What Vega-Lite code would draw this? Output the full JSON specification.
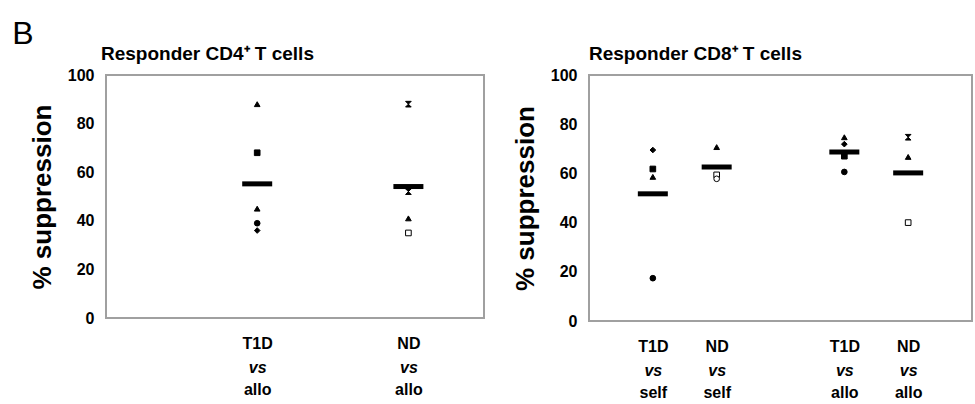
{
  "$schema": "https://vega.github.io/schema/vega-lite/v6.json",
  "background": "white",
  "padding": {"left": 12, "top": 18, "right": 5, "bottom": 2},
  "title": {"text": "B", "anchor": "start", "frame": "bounds", "fontSize": 32, "fontWeight": "normal", "dx": -16, "offset": -7, "color": "black"},
  "datasets": {
    "cd4pts": [
      {"group": "T1D allo", "donor": "D1", "suppression": 88},
      {"group": "T1D allo", "donor": "D2", "suppression": 68},
      {"group": "T1D allo", "donor": "D7", "suppression": 45},
      {"group": "T1D allo", "donor": "D4", "suppression": 39},
      {"group": "T1D allo", "donor": "D3", "suppression": 36},
      {"group": "ND allo", "donor": "D6", "suppression": 88},
      {"group": "ND allo", "donor": "D8", "suppression": 52},
      {"group": "ND allo", "donor": "D1", "suppression": 41},
      {"group": "ND allo", "donor": "D5", "suppression": 35}
    ],
    "cd4means": [
      {"group": "T1D allo", "suppression": 55.2},
      {"group": "ND allo", "suppression": 54.1}
    ],
    "cd8pts": [
      {"group": "T1D self", "donor": "D3", "suppression": 69.5},
      {"group": "T1D self", "donor": "D2", "suppression": 61.8},
      {"group": "T1D self", "donor": "D1", "suppression": 58.6},
      {"group": "T1D self", "donor": "D4", "suppression": 17.4},
      {"group": "ND self", "donor": "D1", "suppression": 70.7},
      {"group": "ND self", "donor": "D5", "suppression": 59.4},
      {"group": "ND self", "donor": "D9", "suppression": 57.8},
      {"group": "T1D allo", "donor": "D1", "suppression": 74.7},
      {"group": "T1D allo", "donor": "D3", "suppression": 71.9},
      {"group": "T1D allo", "donor": "D2", "suppression": 67},
      {"group": "T1D allo", "donor": "D4", "suppression": 60.6},
      {"group": "ND allo", "donor": "D6", "suppression": 74.7},
      {"group": "ND allo", "donor": "D7", "suppression": 66.7},
      {"group": "ND allo", "donor": "D5", "suppression": 40}
    ],
    "cd8means": [
      {"group": "T1D self", "suppression": 51.7},
      {"group": "ND self", "suppression": 62.6},
      {"group": "T1D allo", "suppression": 68.7},
      {"group": "ND allo", "suppression": 60.2}
    ]
  },
  "spacing": 26,
  "hconcat": [
    {
      "width": 378,
      "height": 243,
      "title": {"text": "Responder CD4⁺ T cells", "offset": 3, "dx": -5},
      "resolve": {"scale": {"x": "independent"}},
      "layer": [
        {
          "data": {"name": "cd4pts"},
          "mark": {"type": "point", "size": 32, "stroke": "black", "strokeWidth": 1, "opacity": 1},
          "encoding": {
            "x": {"field": "group", "type": "nominal", "scale": {"type": "point", "domain": ["gapA", "T1D allo", "gapB", "ND allo"], "padding": 1},
                  "axis": {"title": null, "orient": "bottom", "labelExpr": "indexof(datum.value, 'gap') >= 0 ? '' : split(datum.value, ' ')"}},
            "y": {"field": "suppression", "type": "quantitative", "scale": {"domain": [0, 100], "nice": false}, "axis": {"title": "% suppression", "values": [0, 20, 40, 60, 80, 100]}},
            "shape": {"field": "donor", "type": "nominal", "legend": null, "scale": {"domain": ["D1", "D2", "D3", "D4", "D5", "D6", "D7", "D8", "D9"], "range": ["triangle-up", "square", "diamond", "circle", "square", "M-1,-1L1,-1L-1,1L1,1Z", "triangle-up", "M-1,-1L1,-1L-1,1L1,1Z", "circle"]}},
            "fill": {"field": "donor", "type": "nominal", "legend": null, "scale": {"domain": ["D1", "D2", "D3", "D4", "D5", "D6", "D7", "D8", "D9"], "range": ["black", "black", "black", "black", "white", "black", "black", "black", "white"]}}
          }
        },
        {
          "data": {"name": "cd4means"},
          "mark": {"type": "tick", "color": "black", "size": 30, "thickness": 5, "opacity": 1},
          "encoding": {
            "x": {"field": "group", "type": "nominal", "scale": {"type": "point", "domain": ["gapA", "T1D allo", "gapB", "ND allo"], "padding": 1},
                  "axis": {"title": null, "orient": "bottom", "labelFontStyle": "italic", "labelPadding": 41, "labelExpr": "indexof(datum.value, 'gap') >= 0 ? '' : 'vs'"}},
            "y": {"field": "suppression", "type": "quantitative", "scale": {"domain": [0, 100], "nice": false}}
          }
        }
      ]
    },
    {
      "width": 383,
      "height": 246,
      "title": {"text": "Responder CD8⁺ T cells", "offset": 3},
      "resolve": {"scale": {"x": "independent"}},
      "layer": [
        {
          "data": {"name": "cd8pts"},
          "mark": {"type": "point", "size": 32, "stroke": "black", "strokeWidth": 1, "opacity": 1},
          "encoding": {
            "x": {"field": "group", "type": "nominal", "scale": {"type": "point", "domain": ["T1D self", "ND self", "gap", "T1D allo", "ND allo"], "padding": 1},
                  "axis": {"title": null, "orient": "bottom", "labelExpr": "indexof(datum.value, 'gap') >= 0 ? '' : split(datum.value, ' ')"}},
            "y": {"field": "suppression", "type": "quantitative", "scale": {"domain": [0, 100], "nice": false}, "axis": {"title": "% suppression", "values": [0, 20, 40, 60, 80, 100]}},
            "shape": {"field": "donor", "type": "nominal", "legend": null, "scale": {"domain": ["D1", "D2", "D3", "D4", "D5", "D6", "D7", "D8", "D9"], "range": ["triangle-up", "square", "diamond", "circle", "square", "M-1,-1L1,-1L-1,1L1,1Z", "triangle-up", "M-1,-1L1,-1L-1,1L1,1Z", "circle"]}},
            "fill": {"field": "donor", "type": "nominal", "legend": null, "scale": {"domain": ["D1", "D2", "D3", "D4", "D5", "D6", "D7", "D8", "D9"], "range": ["black", "black", "black", "black", "white", "black", "black", "black", "white"]}}
          }
        },
        {
          "data": {"name": "cd8means"},
          "mark": {"type": "tick", "color": "black", "size": 30, "thickness": 5, "opacity": 1},
          "encoding": {
            "x": {"field": "group", "type": "nominal", "scale": {"type": "point", "domain": ["T1D self", "ND self", "gap", "T1D allo", "ND allo"], "padding": 1},
                  "axis": {"title": null, "orient": "bottom", "labelFontStyle": "italic", "labelPadding": 41, "labelExpr": "indexof(datum.value, 'gap') >= 0 ? '' : 'vs'"}},
            "y": {"field": "suppression", "type": "quantitative", "scale": {"domain": [0, 100], "nice": false}}
          }
        }
      ]
    }
  ],
  "config": {
    "font": "Liberation Sans",
    "view": {"stroke": "#a0a0a0", "strokeWidth": 2},
    "axis": {"domain": false, "ticks": false, "tickSize": 0, "grid": false, "labelColor": "black", "titleColor": "black", "labelOverlap": false},
    "axisY": {"labelFontSize": 16, "labelFontWeight": "bold", "labelPadding": 12, "titleFontSize": 26, "titleFontWeight": "bold", "titlePadding": 12},
    "axisX": {"labelFontSize": 16, "labelFontWeight": "bold", "labelAngle": 0, "labelPadding": 17, "labelLineHeight": 46, "labelBaseline": "top"},
    "title": {"fontSize": 19, "fontWeight": "bold", "anchor": "start", "frame": "group", "color": "black"}
  }
}
